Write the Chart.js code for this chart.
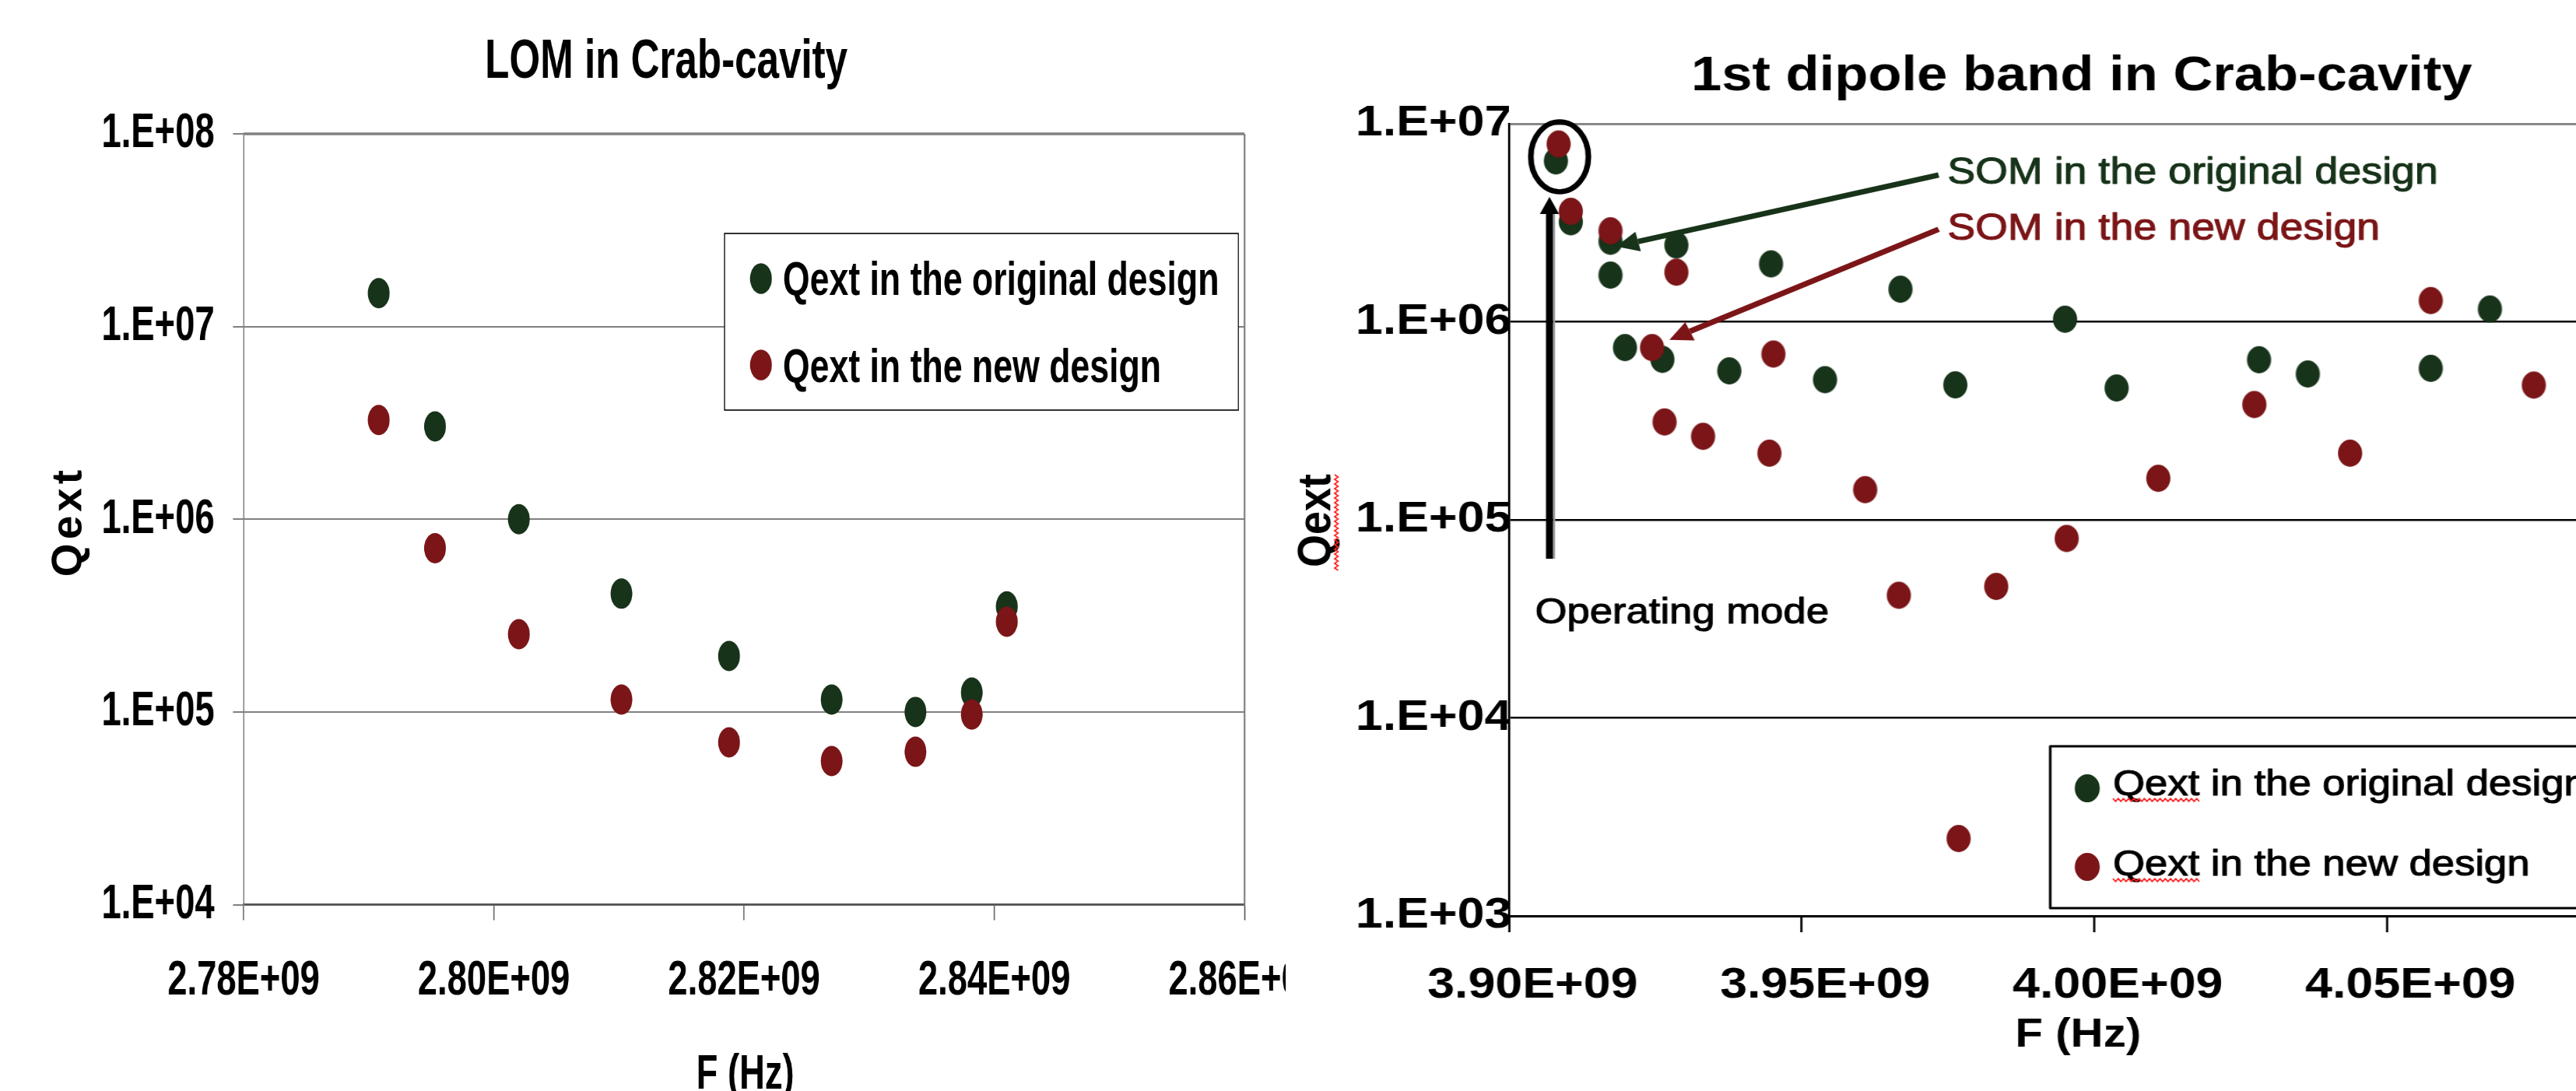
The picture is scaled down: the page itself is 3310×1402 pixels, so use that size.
<!DOCTYPE html>
<html>
<head>
<meta charset="utf-8">
<title>Qext of crab-cavity modes</title>
<script src="https://cdn.jsdelivr.net/npm/chart.js@4.4.1/dist/chart.umd.min.js"></script>
<style>
  html, body { margin: 0; padding: 0; background: #fff; overflow: hidden; width: 3310px; height: 1402px; }
  .panel { position: absolute; top: 0; height: 1402px; transform-origin: 0 0; }
  /* the two panels use different horizontal text proportions */
  #lomPanel { left: 0; width: 2294px; transform: scaleX(0.72); }
  #dipPanel { left: 1660px; width: 1680px; transform: scaleX(1.12); }
  canvas { display: block; }
</style>
</head>
<body>
<div id="lomPanel" class="panel"><canvas id="lom" width="2294" height="1402"></canvas></div>
<div id="dipPanel" class="panel"><canvas id="dip" width="1680" height="1402"></canvas></div>
<script>
// ---------- data ----------
const seriesLabels = ['Qext in the original design', 'Qext in the new design'];

// Lowest order mode (LOM)
const lomFreq          = [2.7908e9, 2.7953e9, 2.8020e9, 2.8102e9, 2.8188e9, 2.8270e9, 2.8337e9, 2.8382e9, 2.8410e9];
const lomQextOriginal  = [1.49e7, 3.03e6, 1.00e6, 4.11e5, 1.95e5, 1.16e5, 1.00e5, 1.26e5, 3.53e5];
const lomQextNew       = [3.27e6, 7.07e5, 2.53e5, 1.16e5, 6.95e4, 5.56e4, 6.21e4, 9.70e4, 2.94e5];
const lomFreqTicks     = [2.78e9, 2.80e9, 2.82e9, 2.84e9, 2.86e9];
const lomQextTicks     = [1e4, 1e5, 1e6, 1e7, 1e8];

// 1st dipole band
const dipFreqOriginal  = [3.9080e9, 3.91055e9, 3.91733e9, 3.91733e9, 3.91981e9, 3.9262e9, 3.92859e9, 3.93763e9, 3.94476e9,
                          3.95399e9, 3.96688e9, 3.97625e9, 3.9950e9, 4.00382e9, 4.02815e9, 4.03648e9, 4.05749e9, 4.0676e9];
const dipQextOriginal  = [6.49e6, 3.20e6, 2.55e6, 1.72e6, 7.41e5, 6.46e5, 2.44e6, 5.65e5, 1.96e6,
                          5.10e5, 1.46e6, 4.80e5, 1.03e6, 4.63e5, 6.43e5, 5.45e5, 5.82e5, 1.16e6];
const dipFreqNew       = [3.90847e9, 3.91055e9, 3.91733e9, 3.92443e9, 3.92657e9, 3.92859e9, 3.93315e9, 3.94448e9, 3.94517e9, 3.96085e9,
                          3.96660e9, 3.97681e9, 3.98324e9, 3.99528e9, 4.01094e9, 4.02735e9, 4.0437e9, 4.05749e9, 4.0751e9];
const dipQextNew       = [7.90e6, 3.61e6, 2.88e6, 7.41e5, 3.12e5, 1.78e6, 2.64e5, 2.17e5, 6.87e5, 1.42e5,
                          4.16e4, 2.46e3, 4.61e4, 8.05e4, 1.62e5, 3.82e5, 2.17e5, 1.28e6, 4.79e5];
const dipFreqTicks     = [3.90e9, 3.95e9, 4.00e9, 4.05e9, 4.10e9];
const dipQextTicks     = [1e3, 1e4, 1e5, 1e6, 1e7];

// ---------- styling ----------
const FONT = "'Liberation Sans', Arial, Helvetica, sans-serif";
const GREEN = '#17331a';
const RED = '#7b1517';
const LOM_SX = 0.72;   // horizontal scale of the left panel
const DIP_SX = 1.12;   // horizontal scale of the right panel
Chart.defaults.font.family = FONT;
Chart.defaults.color = '#000';

// "2.78E+09" / "1.E+08" style labels
function expLabel(v, digits) {
  const e = Math.floor(Math.log10(v) + 1e-9);
  const m = v / Math.pow(10, e);
  const mant = digits === 0 ? Math.round(m) + '.' : m.toFixed(digits);
  return mant + 'E+' + String(e).padStart(2, '0');
}
function pairs(xs, ys) { return xs.map((x, i) => ({ x: x, y: ys[i] })); }

function ellipseMarker(color, w, h) {
  const c = document.createElement('canvas');
  c.width = Math.ceil(w) + 2; c.height = Math.ceil(h) + 2;
  const g = c.getContext('2d');
  g.fillStyle = color;
  g.beginPath();
  g.ellipse(c.width / 2, c.height / 2, w / 2, h / 2, 0, 0, Math.PI * 2);
  g.fill();
  return c;
}

function squiggle(ctx, x0, y0, len, vertical) {
  ctx.save();
  ctx.strokeStyle = '#ff2020';
  ctx.lineWidth = 1.6;
  ctx.beginPath();
  let up = true;
  for (let d = 0; d <= len; d += 3) {
    const off = up ? -2 : 2; up = !up;
    if (vertical) ctx.lineTo(x0 + off, y0 + d); else ctx.lineTo(x0 + d, y0 + off);
  }
  ctx.stroke();
  ctx.restore();
}

// slightly heavier regular text
function heavyText(ctx, text, x, y, color) {
  ctx.fillStyle = color;
  ctx.strokeStyle = color;
  ctx.lineWidth = 1.1;
  ctx.lineJoin = 'round';
  ctx.fillText(text, x, y);
  ctx.strokeText(text, x, y);
}

function arrow(ctx, x0, y0, x1, y1, color, lw, headLen, headHalf) {
  const ang = Math.atan2(y1 - y0, x1 - x0);
  const bx = x1 - Math.cos(ang) * headLen, by = y1 - Math.sin(ang) * headLen;
  ctx.save();
  ctx.strokeStyle = color; ctx.fillStyle = color; ctx.lineWidth = lw;
  ctx.beginPath(); ctx.moveTo(x0, y0); ctx.lineTo(bx, by); ctx.stroke();
  ctx.beginPath(); ctx.moveTo(x1, y1);
  ctx.lineTo(bx + Math.sin(ang) * headHalf, by - Math.cos(ang) * headHalf);
  ctx.lineTo(bx - Math.sin(ang) * headHalf, by + Math.cos(ang) * headHalf);
  ctx.closePath(); ctx.fill();
  ctx.restore();
}

function decadeTicks(list) { return s => { s.ticks = list.map(v => ({ value: v })); }; }
function noOverhang(s) { s.paddingLeft = 0; s.paddingRight = 0; s.paddingTop = 0; s.paddingBottom = 0; }

// ---------- left panel: LOM ----------
const lomDecor = {
  id: 'lomDecor',
  beforeDatasetsDraw(chart) {
    const { ctx, chartArea: a } = chart;
    ctx.save();
    ctx.strokeStyle = '#808080';
    ctx.lineWidth = 3.5;
    ctx.beginPath(); ctx.moveTo(a.left, a.top); ctx.lineTo(a.right, a.top); ctx.stroke();
    ctx.lineWidth = 3;
    ctx.beginPath(); ctx.moveTo(a.right, a.top); ctx.lineTo(a.right, a.bottom); ctx.stroke();
    ctx.restore();
  },
  afterDraw(chart) {
    const { ctx } = chart;
    ctx.save();
    ctx.fillStyle = '#000';
    // title
    ctx.font = 'bold 71px ' + FONT;
    ctx.textAlign = 'center'; ctx.textBaseline = 'alphabetic';
    ctx.fillText('LOM in Crab-cavity', 1189, 100);
    // x title
    ctx.font = 'bold 63px ' + FONT;
    ctx.fillText('F (Hz)', 1330, 1399);
    // y title (kept in natural proportions)
    ctx.save();
    ctx.translate(89 / LOM_SX, 670);
    ctx.scale(1 / LOM_SX, 1);
    ctx.rotate(-Math.PI / 2);
    ctx.font = 'bold 55px ' + FONT;
    ctx.letterSpacing = '5px';
    ctx.textBaseline = 'middle';
    ctx.fillText('Qext', 0, 0);
    ctx.restore();
    // legend
    const box = { l: 1293, t: 300, r: 2210, b: 527 };
    ctx.fillStyle = '#fff';
    ctx.fillRect(box.l, box.t, box.r - box.l, box.b - box.t);
    ctx.strokeStyle = '#000'; ctx.lineWidth = 1.6;
    ctx.strokeRect(box.l, box.t, box.r - box.l, box.b - box.t);
    const rows = [{ y: 358, base: 379 }, { y: 469, base: 491 }];
    chart.data.datasets.forEach((ds, i) => {
      ctx.fillStyle = ds.backgroundColor;
      ctx.beginPath(); ctx.ellipse(1358, rows[i].y, 19.5, 19.8, 0, 0, Math.PI * 2); ctx.fill();
      ctx.fillStyle = '#000';
      ctx.font = 'bold 62px ' + FONT;
      ctx.textAlign = 'left'; ctx.textBaseline = 'alphabetic';
      ctx.fillText(ds.label, 1397, rows[i].base);
    });
    ctx.restore();
  }
};

new Chart(document.getElementById('lom'), {
  type: 'scatter',
  data: {
    datasets: [
      { label: seriesLabels[0], data: pairs(lomFreq, lomQextOriginal), backgroundColor: GREEN,
        pointRadius: 19.5, pointHoverRadius: 19.5, borderWidth: 0, order: 1 },
      { label: seriesLabels[1], data: pairs(lomFreq, lomQextNew), backgroundColor: RED,
        pointRadius: 19.5, pointHoverRadius: 19.5, borderWidth: 0, order: 0 }
    ]
  },
  options: {
    responsive: false, animation: false, events: [],
    layout: { padding: { left: 0, right: 73, top: 172, bottom: 0 } },
    plugins: { legend: { display: false }, tooltip: { enabled: false }, title: { display: false } },
    scales: {
      x: {
        type: 'linear', min: 2.78e9, max: 2.86e9,
        afterBuildTicks: decadeTicks(lomFreqTicks),
        afterFit: s => { s.height = 1402 - 1162.5; noOverhang(s); },
        grid: { drawOnChartArea: false, drawTicks: true, tickLength: 20, tickColor: '#555', tickWidth: 2 },
        border: { display: true, color: '#555', width: 2.5 },
        ticks: { autoSkip: false, maxRotation: 0, minRotation: 0, padding: 40, color: '#000',
                 font: { size: 63, weight: 'bold' }, callback: v => expLabel(v, 2) }
      },
      y: {
        type: 'logarithmic', min: 1e4, max: 1e8,
        afterBuildTicks: decadeTicks(lomQextTicks),
        afterFit: s => { s.width = 313 / LOM_SX; noOverhang(s); },
        grid: { color: '#808080', lineWidth: 2, drawTicks: true, tickLength: 19, tickColor: '#808080', tickWidth: 2 },
        border: { display: true, color: '#808080', width: 2 },
        ticks: { padding: 33, color: '#000', font: { size: 63, weight: 'bold' }, callback: v => expLabel(v, 0) }
      }
    }
  },
  plugins: [lomDecor]
});

// ---------- right panel: 1st dipole band ----------
const dipNotes = {
  ring:        { f: 3.90864e9, q: 6.81e6, rx: 33, ry: 45 },
  modeArrow:   { f: 3.90691e9, from: 6.36e4, to: 4.27e6 },
  modeText:    { f: 3.90445e9, q: 3.0e4, text: 'Operating mode' },
  somOriginal: { text: 'SOM in the original design', f: 3.9749e9, q: 4.98e6,
                 from: [3.9734e9, 5.505e6], to: [3.9183e9, 2.401e6], color: GREEN },
  somNew:      { text: 'SOM in the new design', f: 3.9749e9, q: 2.597e6,
                 from: [3.9734e9, 2.933e6], to: [3.9274e9, 8.11e5], color: RED }
};

const dipDecor = {
  id: 'dipDecor',
  afterDraw(chart) {
    const { ctx } = chart;
    const xs = chart.scales.x, ys = chart.scales.y;
    const px = f => xs.getPixelForValue(f), py = q => ys.getPixelForValue(q);
    ctx.save();
    ctx.fillStyle = '#000';
    // title
    ctx.font = 'bold 63px ' + FONT;
    ctx.textAlign = 'center'; ctx.textBaseline = 'alphabetic';
    ctx.fillText('1st dipole band in Crab-cavity', 906, 116);
    // x title
    ctx.font = 'bold 52px ' + FONT;
    ctx.fillText('F (Hz)', 902, 1345);
    // y title
    ctx.save();
    ctx.translate(29.5, 669);
    ctx.rotate(-Math.PI / 2);
    ctx.font = 'bold 54px ' + FONT;
    ctx.textBaseline = 'middle';
    ctx.fillText('Qext', 0, 0);
    ctx.restore();
    squiggle(ctx, 51, 610, 123, true);

    // operating mode marker
    const r = dipNotes.ring;
    ctx.strokeStyle = '#000'; ctx.lineWidth = 6.5;
    ctx.beginPath(); ctx.ellipse(px(r.f), py(r.q), r.rx, r.ry, 0, 0, Math.PI * 2); ctx.stroke();
    const m = dipNotes.modeArrow;
    const mx = px(m.f);
    ctx.strokeStyle = '#9a9a9a'; ctx.lineWidth = 2.5;
    ctx.beginPath(); ctx.moveTo(mx + 5.2, py(m.from)); ctx.lineTo(mx + 5.2, py(m.to) + 22); ctx.stroke();
    arrow(ctx, mx, py(m.from), mx, py(m.to), '#000', 8, 22, 11);
    const t = dipNotes.modeText;
    ctx.font = '47px ' + FONT;
    ctx.textAlign = 'left'; ctx.textBaseline = 'alphabetic';
    heavyText(ctx, t.text, px(t.f), py(t.q), '#000');

    // SOM call-outs
    [dipNotes.somOriginal, dipNotes.somNew].forEach(n => {
      arrow(ctx, px(n.from[0]), py(n.from[1]), px(n.to[0]), py(n.to[1]), n.color, 7, 26, 13);
      ctx.font = '48px ' + FONT;
      heavyText(ctx, n.text, px(n.f), py(n.q), n.color);
    });

    // legend
    const box = { l: 870, t: 959, r: 1720, b: 1167 };
    ctx.fillStyle = '#fff';
    ctx.fillRect(box.l, box.t, box.r - box.l, box.b - box.t);
    ctx.strokeStyle = '#000'; ctx.lineWidth = 3;
    ctx.strokeRect(box.l, box.t, box.r - box.l, box.b - box.t);
    const rows = [{ y: 1013, base: 1022 }, { y: 1114, base: 1125 }];
    ctx.font = '47px ' + FONT;
    const qw = ctx.measureText('Qext').width;
    chart.data.datasets.forEach((ds, i) => {
      ctx.fillStyle = ds.legendColor;
      ctx.beginPath(); ctx.ellipse(912.5, rows[i].y, 14.3, 18, 0, 0, Math.PI * 2); ctx.fill();
      heavyText(ctx, ds.label, 942, rows[i].base, '#000');
      squiggle(ctx, 942, rows[i].base + 6, qw, false);
    });
    ctx.restore();
  }
};

const greenDot = ellipseMarker(GREEN, 27.7, 35);
const redDot = ellipseMarker(RED, 27.7, 35);

new Chart(document.getElementById('dip'), {
  type: 'scatter',
  data: {
    datasets: [
      { label: seriesLabels[0], data: pairs(dipFreqOriginal, dipQextOriginal), pointStyle: greenDot,
        legendColor: GREEN, backgroundColor: GREEN, pointRadius: 15, pointHoverRadius: 15, borderWidth: 0, order: 1 },
      { label: seriesLabels[1], data: pairs(dipFreqNew, dipQextNew), pointStyle: redDot,
        legendColor: RED, backgroundColor: RED, pointRadius: 15, pointHoverRadius: 15, borderWidth: 0, order: 0 }
    ]
  },
  options: {
    responsive: false, animation: false, events: [],
    layout: { padding: { left: 0, right: 1680 - 1783 / DIP_SX, top: 159, bottom: 0 } },
    plugins: { legend: { display: false }, tooltip: { enabled: false }, title: { display: false } },
    scales: {
      x: {
        type: 'linear', min: 3.90e9, max: 4.10e9,
        afterBuildTicks: decadeTicks(dipFreqTicks),
        afterFit: s => { s.height = 1402 - 1177; noOverhang(s); },
        grid: { drawOnChartArea: false, drawTicks: true, tickLength: 21, tickColor: '#000', tickWidth: 2.5 },
        border: { display: true, color: '#000', width: 3 },
        ticks: { autoSkip: false, maxRotation: 0, minRotation: 0, padding: 35, labelOffset: 27, color: '#000',
                 font: { size: 56, weight: 'bold' }, callback: v => expLabel(v, 2) }
      },
      y: {
        type: 'logarithmic', min: 1e3, max: 1e7,
        afterBuildTicks: decadeTicks(dipQextTicks),
        afterFit: s => { s.width = 279 / DIP_SX; noOverhang(s); },
        grid: {
          color: c => (c.tick && c.tick.value === 1e7) ? '#888888' : '#000',
          lineWidth: c => (c.tick && c.tick.value === 1e7) ? 3 : 2.5,
          drawTicks: false
        },
        border: { display: true, color: '#000', width: 2.5 },
        ticks: { padding: -3, color: '#000', font: { size: 56, weight: 'bold' }, callback: v => expLabel(v, 0) }
      }
    }
  },
  plugins: [dipDecor]
});
</script>
</body>
</html>
